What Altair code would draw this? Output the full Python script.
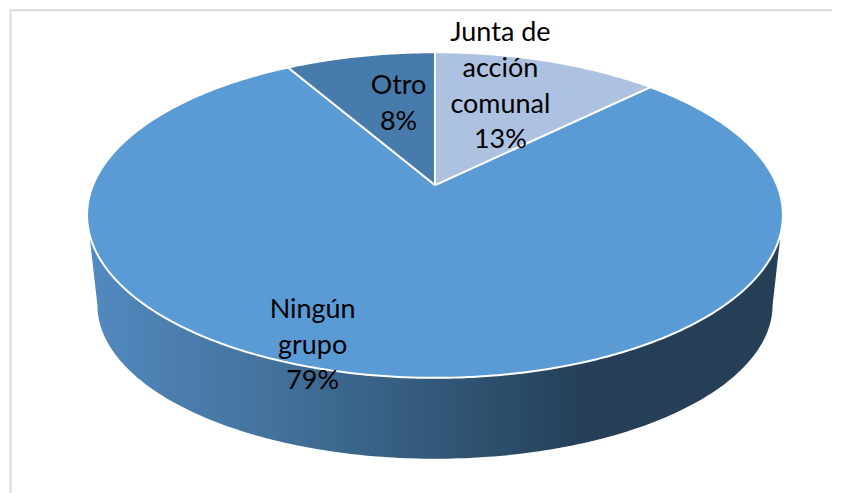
import numpy as np
import pandas as pd
import altair as alt

# ---- chart values ----
slices = ["Junta de acción comunal", "Ningún grupo", "Otro"]
shares = [12.6, 79.1, 8.3]
colors = ["#adc2e0", "#5b9bd5", "#477bab"]
label_text = ["Junta de\nacción\ncomunal\n13%", "Ningún\ngrupo\n79%", "Otro\n8%"]
label_x = [501, 313, 399]
label_y = [33, 310, 86]

# ---- 3D pie geometry (picture coordinates) ----
APEX_X, APEX_Y = 435.5, 185
A, B, K = 342.4, 157.5, 0.184   # perspective projection of the circular top


def project(theta):
    X, Y = np.sin(theta), -np.cos(theta)
    d = 1 - K * Y
    return APEX_X + A * X / d, APEX_Y + B * Y / d


def wedge(start, end):
    th = np.radians(np.linspace(start, end, max(int(end - start) * 2, 8)))
    xs, ys = project(th)
    xs = np.r_[APEX_X, xs, APEX_X]
    ys = np.r_[APEX_Y, ys, APEX_Y]
    return pd.DataFrame({"x": xs, "y": ys, "i": np.arange(len(xs))})


x_scale = alt.Scale(domain=[8, 833], range=[0, 825], nice=False, zero=False)
y_scale = alt.Scale(domain=[8, 493], range=[0, 485], nice=False, zero=False)
X = lambda f="x": alt.X(f"{f}:Q", scale=x_scale, axis=None)
Y = lambda f="y": alt.Y(f"{f}:Q", scale=y_scale, axis=None)

# side wall of the disc
t = np.radians(np.linspace(180, 0, 181))
side = pd.DataFrame({
    "x": np.r_[90, 435.5 + 338 * np.cos(t), 781],
    "y2": np.r_[239, 305 + 154 * np.sin(t), 239],
})
side["y"] = 235
side_fill = alt.Gradient(
    gradient="linear", x1=0, x2=1, y1=0, y2=0,
    stops=[
        alt.GradientStop(offset=0.0, color="#5289bf"),
        alt.GradientStop(offset=0.27, color="#42719b"),
        alt.GradientStop(offset=0.52, color="#315676"),
        alt.GradientStop(offset=0.72, color="#243f56"),
        alt.GradientStop(offset=1.0, color="#243f56"),
    ],
)
side_layer = alt.Chart(side).mark_area(color=side_fill, interpolate="linear").encode(
    x=X(), y=Y(), y2="y2:Q"
)

# top surface wedges
edges = np.r_[0, np.cumsum(shares)] / sum(shares) * 360
layers = [side_layer]
for k in [1, 2, 0]:
    layers.append(
        alt.Chart(wedge(edges[k], edges[k + 1]))
        .mark_line(fill=colors[k], stroke="white", strokeWidth=2, strokeJoin="round")
        .encode(x=X(), y=Y(), order="i:Q")
    )

# frame: top and left lines only
frame_top = alt.Chart(pd.DataFrame({"x": [10], "x2": [833], "y": [10]})).mark_rule(
    color="#d9d9d9", strokeWidth=2
).encode(x=X(), x2="x2:Q", y=Y())
frame_left = alt.Chart(pd.DataFrame({"x": [10.5], "y": [10], "y2": [493]})).mark_rule(
    color="#d9d9d9", strokeWidth=2
).encode(x=X(), y=Y(), y2="y2:Q")

labels = alt.Chart(pd.DataFrame({"t": label_text, "x": label_x, "y": label_y})).mark_text(
    font="Lato", fontSize=27, lineBreak="\n", lineHeight=35.7,
    align="center", baseline="middle", color="#000000",
).encode(x=X(), y=Y(), text="t:N")

chart = (
    alt.layer(frame_top, frame_left, *layers, labels)
    .properties(width=825, height=485, padding=0, background="white")
    .configure_view(stroke=None)
)
chart.save("out.html", embed_options={"renderer": "svg", "actions": False})
